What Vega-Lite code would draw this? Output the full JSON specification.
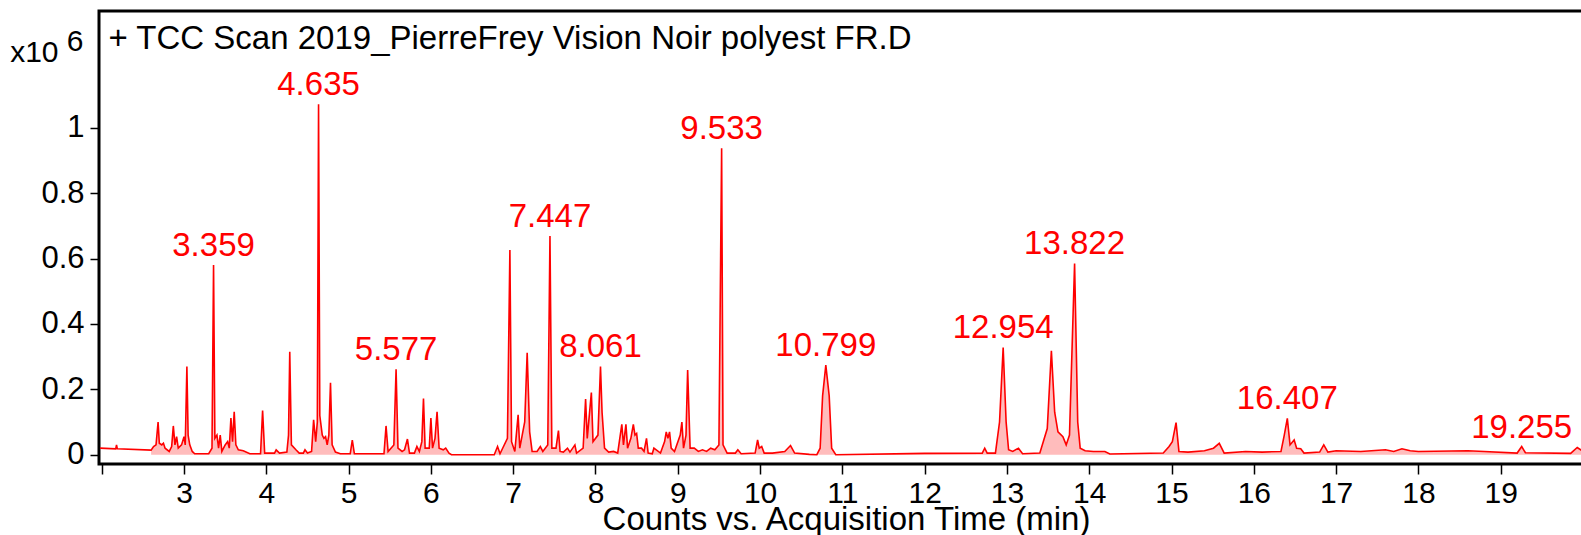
{
  "$schema": "https://vega.github.io/schema/vega-lite/v6.json",
  "autosize": {"type": "none"},
  "padding": {"left": 99, "top": 11, "right": 0, "bottom": 71},
  "width": 1484,
  "height": 453,
  "background": "white",
  "config": {
    "view": {"stroke": "black", "strokeWidth": 3},
    "font": "Liberation Sans"
  },
  "resolve": {"axis": {"x": "independent", "y": "independent"}},
  "datasets": {
    "trace": [
      {"t":1.98,"v":0.020},{"t":2.17,"v":0.018},{"t":2.18,"v":0.030},{"t":2.19,"v":0.018},{"t":2.60,"v":0.014},
      {"t":2.63,"v":0.025},{"t":2.66,"v":0.030},{"t":2.685,"v":0.100},{"t":2.70,"v":0.035},{"t":2.73,"v":0.030},
      {"t":2.75,"v":0.035},{"t":2.77,"v":0.020},{"t":2.82,"v":0.010},{"t":2.85,"v":0.025},{"t":2.87,"v":0.088},
      {"t":2.89,"v":0.030},{"t":2.91,"v":0.055},{"t":2.93,"v":0.020},{"t":2.97,"v":0.030},{"t":3.00,"v":0.055},
      {"t":3.015,"v":0.030},{"t":3.035,"v":0.270},{"t":3.05,"v":0.060},{"t":3.07,"v":0.030},{"t":3.10,"v":0.010},
      {"t":3.13,"v":0.003},{"t":3.30,"v":0.003},{"t":3.34,"v":0.020},{"t":3.359,"v":0.580},{"t":3.375,"v":0.050},
      {"t":3.40,"v":0.060},{"t":3.42,"v":0.020},{"t":3.44,"v":0.060},{"t":3.46,"v":0.010},{"t":3.50,"v":0.030},
      {"t":3.53,"v":0.040},{"t":3.55,"v":0.020},{"t":3.57,"v":0.112},{"t":3.59,"v":0.040},{"t":3.61,"v":0.131},
      {"t":3.63,"v":0.030},{"t":3.66,"v":0.015},{"t":3.72,"v":0.012},{"t":3.80,"v":0.003},{"t":3.93,"v":0.003},
      {"t":3.955,"v":0.135},{"t":3.98,"v":0.005},{"t":4.10,"v":0.005},{"t":4.12,"v":0.015},{"t":4.16,"v":0.005},
      {"t":4.25,"v":0.008},{"t":4.27,"v":0.060},{"t":4.285,"v":0.315},{"t":4.305,"v":0.030},{"t":4.36,"v":0.015},
      {"t":4.40,"v":0.005},{"t":4.45,"v":0.005},{"t":4.47,"v":0.015},{"t":4.50,"v":0.005},{"t":4.55,"v":0.010},
      {"t":4.575,"v":0.107},{"t":4.60,"v":0.040},{"t":4.62,"v":0.100},{"t":4.635,"v":1.072},{"t":4.65,"v":0.120},
      {"t":4.68,"v":0.060},{"t":4.70,"v":0.050},{"t":4.72,"v":0.055},{"t":4.74,"v":0.030},{"t":4.76,"v":0.060},
      {"t":4.78,"v":0.220},{"t":4.80,"v":0.030},{"t":4.84,"v":0.008},{"t":4.90,"v":0.003},{"t":5.02,"v":0.003},
      {"t":5.045,"v":0.045},{"t":5.07,"v":0.003},{"t":5.43,"v":0.003},{"t":5.455,"v":0.088},{"t":5.48,"v":0.010},
      {"t":5.55,"v":0.030},{"t":5.577,"v":0.261},{"t":5.60,"v":0.020},{"t":5.65,"v":0.010},{"t":5.68,"v":0.015},
      {"t":5.715,"v":0.048},{"t":5.74,"v":0.005},{"t":5.80,"v":0.005},{"t":5.83,"v":0.025},{"t":5.86,"v":0.010},
      {"t":5.89,"v":0.040},{"t":5.91,"v":0.172},{"t":5.93,"v":0.020},{"t":5.98,"v":0.020},{"t":6.00,"v":0.112},
      {"t":6.02,"v":0.020},{"t":6.05,"v":0.050},{"t":6.075,"v":0.131},{"t":6.10,"v":0.020},{"t":6.15,"v":0.015},
      {"t":6.18,"v":0.020},{"t":6.22,"v":0.005},{"t":6.25,"v":0.000},{"t":6.77,"v":0.000},{"t":6.81,"v":0.025},
      {"t":6.84,"v":0.003},{"t":6.93,"v":0.050},{"t":6.96,"v":0.626},{"t":6.98,"v":0.040},{"t":7.02,"v":0.010},
      {"t":7.06,"v":0.122},{"t":7.08,"v":0.020},{"t":7.14,"v":0.100},{"t":7.17,"v":0.312},{"t":7.20,"v":0.070},
      {"t":7.23,"v":0.010},{"t":7.29,"v":0.010},{"t":7.33,"v":0.025},{"t":7.36,"v":0.010},{"t":7.42,"v":0.030},
      {"t":7.447,"v":0.669},{"t":7.47,"v":0.020},{"t":7.52,"v":0.020},{"t":7.55,"v":0.074},{"t":7.57,"v":0.010},
      {"t":7.61,"v":0.008},{"t":7.66,"v":0.020},{"t":7.69,"v":0.008},{"t":7.75,"v":0.030},{"t":7.77,"v":0.005},
      {"t":7.85,"v":0.020},{"t":7.88,"v":0.170},{"t":7.90,"v":0.050},{"t":7.95,"v":0.190},{"t":7.97,"v":0.040},
      {"t":8.03,"v":0.060},{"t":8.061,"v":0.270},{"t":8.08,"v":0.130},{"t":8.11,"v":0.020},{"t":8.16,"v":0.008},
      {"t":8.22,"v":0.010},{"t":8.27,"v":0.005},{"t":8.32,"v":0.093},{"t":8.34,"v":0.030},{"t":8.37,"v":0.093},
      {"t":8.39,"v":0.020},{"t":8.43,"v":0.050},{"t":8.46,"v":0.093},{"t":8.48,"v":0.060},{"t":8.50,"v":0.065},
      {"t":8.52,"v":0.020},{"t":8.56,"v":0.020},{"t":8.59,"v":0.010},{"t":8.62,"v":0.050},{"t":8.64,"v":0.005},
      {"t":8.69,"v":0.003},{"t":8.71,"v":0.020},{"t":8.79,"v":0.005},{"t":8.84,"v":0.040},{"t":8.86,"v":0.070},
      {"t":8.88,"v":0.050},{"t":8.90,"v":0.070},{"t":8.92,"v":0.020},{"t":8.96,"v":0.010},{"t":9.03,"v":0.060},
      {"t":9.05,"v":0.100},{"t":9.07,"v":0.020},{"t":9.10,"v":0.060},{"t":9.12,"v":0.259},{"t":9.15,"v":0.020},
      {"t":9.20,"v":0.020},{"t":9.25,"v":0.010},{"t":9.30,"v":0.015},{"t":9.35,"v":0.010},{"t":9.40,"v":0.020},
      {"t":9.45,"v":0.015},{"t":9.50,"v":0.030},{"t":9.533,"v":0.937},{"t":9.55,"v":0.030},{"t":9.60,"v":0.005},
      {"t":9.70,"v":0.005},{"t":9.73,"v":0.015},{"t":9.77,"v":0.003},{"t":9.94,"v":0.005},{"t":9.97,"v":0.045},
      {"t":9.99,"v":0.020},{"t":10.02,"v":0.025},{"t":10.05,"v":0.005},{"t":10.15,"v":0.005},{"t":10.30,"v":0.010},
      {"t":10.37,"v":0.028},{"t":10.42,"v":0.005},{"t":10.60,"v":0.001},{"t":10.69,"v":0.000},{"t":10.73,"v":0.020},
      {"t":10.76,"v":0.180},{"t":10.799,"v":0.274},{"t":10.84,"v":0.180},{"t":10.87,"v":0.020},{"t":10.92,"v":0.000},
      {"t":12.00,"v":0.004},{"t":12.70,"v":0.005},{"t":12.73,"v":0.020},{"t":12.76,"v":0.005},{"t":12.86,"v":0.005},
      {"t":12.91,"v":0.100},{"t":12.954,"v":0.328},{"t":12.99,"v":0.100},{"t":13.02,"v":0.015},{"t":13.07,"v":0.010},
      {"t":13.14,"v":0.020},{"t":13.19,"v":0.003},{"t":13.40,"v":0.005},{"t":13.49,"v":0.080},{"t":13.54,"v":0.318},
      {"t":13.58,"v":0.130},{"t":13.62,"v":0.070},{"t":13.68,"v":0.055},{"t":13.72,"v":0.030},{"t":13.76,"v":0.060},
      {"t":13.822,"v":0.585},{"t":13.86,"v":0.100},{"t":13.89,"v":0.020},{"t":13.95,"v":0.012},{"t":14.05,"v":0.010},
      {"t":14.19,"v":0.010},{"t":14.25,"v":0.002},{"t":14.90,"v":0.005},{"t":14.97,"v":0.025},{"t":15.01,"v":0.040},
      {"t":15.055,"v":0.098},{"t":15.09,"v":0.010},{"t":15.20,"v":0.008},{"t":15.40,"v":0.012},{"t":15.51,"v":0.020},
      {"t":15.58,"v":0.035},{"t":15.64,"v":0.005},{"t":15.90,"v":0.010},{"t":16.10,"v":0.008},{"t":16.33,"v":0.010},
      {"t":16.37,"v":0.060},{"t":16.407,"v":0.111},{"t":16.44,"v":0.030},{"t":16.49,"v":0.045},{"t":16.52,"v":0.020},
      {"t":16.57,"v":0.018},{"t":16.61,"v":0.005},{"t":16.80,"v":0.008},{"t":16.85,"v":0.030},{"t":16.90,"v":0.008},
      {"t":17.00,"v":0.012},{"t":17.30,"v":0.010},{"t":17.60,"v":0.015},{"t":17.70,"v":0.010},{"t":17.80,"v":0.018},
      {"t":17.90,"v":0.012},{"t":18.00,"v":0.010},{"t":18.60,"v":0.012},{"t":18.80,"v":0.010},{"t":19.20,"v":0.005},
      {"t":19.255,"v":0.025},{"t":19.30,"v":0.006},{"t":19.85,"v":0.004},{"t":19.93,"v":0.022},{"t":20.00,"v":0.010}
    ],
    "peaks": [
      {"t":3.359,"v":0.580,"label":"3.359"},
      {"t":4.635,"v":1.072,"label":"4.635"},
      {"t":5.577,"v":0.261,"label":"5.577"},
      {"t":7.447,"v":0.669,"label":"7.447"},
      {"t":8.061,"v":0.270,"label":"8.061"},
      {"t":9.533,"v":0.937,"label":"9.533"},
      {"t":10.799,"v":0.274,"label":"10.799"},
      {"t":12.954,"v":0.328,"label":"12.954"},
      {"t":13.822,"v":0.585,"label":"13.822"},
      {"t":16.407,"v":0.111,"label":"16.407"},
      {"t":19.255,"v":0.025,"label":"19.255"}
    ]
  },
  "layer": [
    {
      "data": {"name": "trace"},
      "transform": [{"filter": "datum.t >= 2.6"}],
      "mark": {"type": "area", "color": "#ffbcbc", "opacity": 1},
      "encoding": {
        "x": {
          "field": "t", "type": "quantitative",
          "scale": {"domain": [1.967, 20.0], "nice": false, "zero": false},
          "axis": {
            "orient": "bottom",
            "title": "Counts vs. Acquisition Time (min)",
            "values": [2,3,4,5,6,7,8,9,10,11,12,13,14,15,16,17,18,19],
            "labelExpr": "datum.value == 2 ? '' : datum.label",
            "domain": false, "grid": false,
            "tickColor": "black", "tickWidth": 1.5, "tickSize": 10,
            "labelFontSize": 30, "labelColor": "black", "labelFont": "Liberation Sans",
            "labelBaseline": "alphabetic", "labelPadding": 28, "labelFlush": false, "labelOverlap": false,
            "titleFontSize": 33, "titleFontWeight": "normal", "titleColor": "black", "titleFont": "Liberation Sans",
            "titleX": 747, "titleY": 65, "titleBaseline": "alphabetic", "titleAlign": "center"
          }
        },
        "y": {
          "field": "v", "type": "quantitative",
          "scale": {"domain": [-0.0284, 1.357], "nice": false, "zero": false},
          "axis": {
            "orient": "left",
            "title": "x10",
            "titleAngle": 0, "titleAlign": "right", "titleBaseline": "alphabetic",
            "titleX": -41, "titleY": 50,
            "titleFontSize": 30, "titleFontWeight": "normal", "titleColor": "black", "titleFont": "Liberation Sans",
            "values": [0, 0.2, 0.4, 0.6, 0.8, 1],
            "format": "~g",
            "domain": false, "grid": false,
            "tickColor": "black", "tickWidth": 1.5, "tickSize": 9,
            "labelFontSize": 31, "labelColor": "black", "labelFont": "Liberation Sans",
            "labelPadding": 6
          }
        },
        "y2": {"datum": 0}
      }
    },
    {
      "data": {"name": "trace"},
      "mark": {"type": "line", "color": "#ff0000", "strokeWidth": 1.6},
      "encoding": {
        "x": {"field": "t", "type": "quantitative", "scale": {"domain": [1.967, 20.0], "nice": false, "zero": false}, "axis": null},
        "y": {"field": "v", "type": "quantitative", "scale": {"domain": [-0.0284, 1.357], "nice": false, "zero": false}, "axis": null}
      }
    },
    {
      "data": {"name": "peaks"},
      "mark": {"type": "text", "color": "#ff0000", "fontSize": 33, "font": "Liberation Sans", "baseline": "alphabetic", "align": "center", "dy": -9},
      "encoding": {
        "x": {
          "field": "t", "type": "quantitative",
          "scale": {"domain": [1.967, 20.0], "nice": false, "zero": false},
          "axis": {
            "orient": "top",
            "title": "+ TCC Scan 2019_PierreFrey Vision Noir polyest FR.D",
            "titleX": 9, "titleY": 37, "titleAlign": "left", "titleBaseline": "alphabetic",
            "titleFontSize": 33, "titleFontWeight": "normal", "titleColor": "black", "titleFont": "Liberation Sans",
            "labels": false, "ticks": false, "domain": false, "grid": false
          }
        },
        "y": {
          "field": "v", "type": "quantitative",
          "scale": {"domain": [-0.0284, 1.357], "nice": false, "zero": false},
          "axis": {
            "orient": "right",
            "title": "6",
            "titleAngle": 0, "titleX": -1500, "titleY": 39, "titleAlign": "right", "titleBaseline": "alphabetic",
            "titleFontSize": 30, "titleFontWeight": "normal", "titleColor": "black", "titleFont": "Liberation Sans",
            "labels": false, "ticks": false, "domain": false, "grid": false
          }
        },
        "text": {"field": "label"}
      }
    }
  ]
}
